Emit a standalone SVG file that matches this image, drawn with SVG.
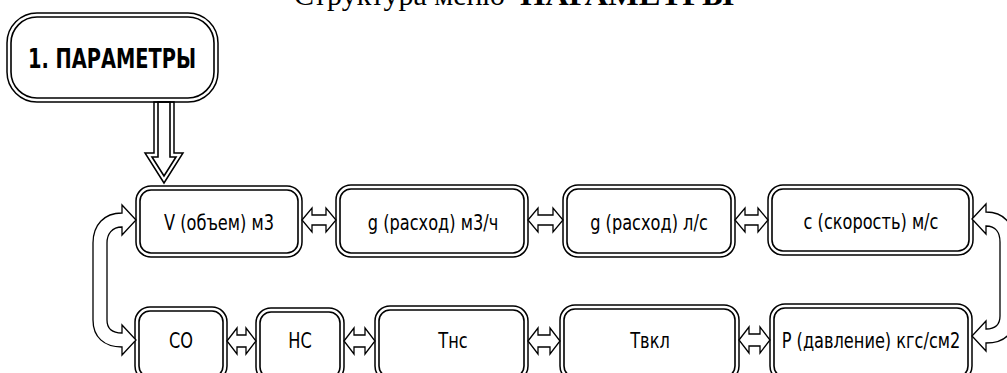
<svg xmlns="http://www.w3.org/2000/svg" width="1007" height="373" viewBox="0 0 1007 373">
<style>
.o{fill:none;stroke:#000;stroke-width:1.5}
.i{fill:none;stroke:#000;stroke-width:1.6}
.lbl{font-family:"DejaVu Sans Condensed","DejaVu Sans",sans-serif;font-stretch:condensed;font-size:18px;fill:#000;text-anchor:middle}
.ttl{font-family:"Liberation Serif","Times New Roman",serif;font-size:30px;fill:#000}
.arr{fill:#fff;stroke:#000;stroke-width:1.3;stroke-linejoin:miter}
</style>
<rect width="1007" height="373" fill="#fff"/>
<text class="ttl" x="294" y="5" textLength="211" lengthAdjust="spacingAndGlyphs">Структура меню</text>
<text class="ttl" x="520" y="5" font-weight="bold" textLength="214" lengthAdjust="spacingAndGlyphs">ПАРАМЕТРЫ</text>

<g id="node-root">
<rect class="o" x="7" y="13" width="211" height="89" rx="30"/>
<rect class="i" x="11" y="17" width="203" height="81" rx="26"/>
<text transform="translate(112,68) scale(1,1.08)" font-family="'DejaVu Sans Condensed','DejaVu Sans',sans-serif" font-stretch="condensed" font-weight="bold" font-size="25" text-anchor="middle" textLength="168" lengthAdjust="spacingAndGlyphs">1. ПАРАМЕТРЫ</text>
</g>

<g id="node-v">
<rect class="o" x="136" y="186" width="166" height="71" rx="15"/>
<rect class="i" x="140" y="190" width="158" height="63" rx="11"/>
<text class="lbl" transform="translate(219,230) scale(1,1.15)">V (объем) м3</text>
</g>
<g id="node-g1">
<rect class="o" x="336" y="185" width="192" height="72" rx="15"/>
<rect class="i" x="340" y="189" width="184" height="64" rx="11"/>
<text class="lbl" transform="translate(433,230) scale(1,1.15)">g (расход) м3/ч</text>
</g>
<g id="node-g2">
<rect class="o" x="563" y="185" width="172" height="72" rx="15"/>
<rect class="i" x="567" y="189" width="164" height="64" rx="11"/>
<text class="lbl" transform="translate(649,230) scale(1,1.15)">g (расход) л/с</text>
</g>
<g id="node-c">
<rect class="o" x="768" y="185" width="205" height="70" rx="15"/>
<rect class="i" x="772" y="189" width="197" height="62" rx="11"/>
<text class="lbl" transform="translate(871,229) scale(1,1.15)">с (скорость) м/с</text>
</g>

<g id="node-co">
<rect class="o" x="135" y="307" width="92" height="74" rx="15"/>
<rect class="i" x="139" y="311" width="84" height="66" rx="11"/>
<text class="lbl" transform="translate(181,348) scale(1,1.15)">СО</text>
</g>
<g id="node-hc">
<rect class="o" x="256" y="308" width="88" height="74" rx="15"/>
<rect class="i" x="260" y="312" width="80" height="66" rx="11"/>
<text class="lbl" transform="translate(300,348) scale(1,1.15)">НС</text>
</g>
<g id="node-tns">
<rect class="o" x="375" y="306" width="153" height="75" rx="15"/>
<rect class="i" x="379" y="310" width="145" height="67" rx="11"/>
<text class="lbl" transform="translate(453,348) scale(1,1.15)">Тнс</text>
</g>
<g id="node-tvkl">
<rect class="o" x="560" y="305" width="179" height="76" rx="15"/>
<rect class="i" x="564" y="309" width="171" height="68" rx="11"/>
<text class="lbl" transform="translate(650,348) scale(1,1.15)">Твкл</text>
</g>
<g id="node-p">
<rect class="o" x="770" y="304" width="202" height="77" rx="15"/>
<rect class="i" x="774" y="308" width="194" height="69" rx="11"/>
<text class="lbl" transform="translate(871,348) scale(1,1.15)">Р (давление) кгс/см2</text>
</g>

<g id="connectors">
<polygon class="o" points="154,102 154,153 145,153 164,183 183,153 174,153 174,102"/>
<polygon class="i" points="158,102 158,157 152,157 164,176 176,157 170,157 170,102"/>

<path class="arr" d="M302,220 L312,208 L312,215 L326,215 L326,208 L336,220 L326,232 L326,225 L312,225 L312,232 Z"/>
<path class="arr" d="M528,220 L538,208 L538,215 L553,215 L553,208 L563,220 L553,232 L553,225 L538,225 L538,232 Z"/>
<path class="arr" d="M735,220 L745,208 L745,215 L758,215 L758,208 L768,220 L758,232 L758,225 L745,225 L745,232 Z"/>

<path class="arr" d="M227,341 L237,328 L237,335 L246,335 L246,328 L256,341 L246,354 L246,347 L237,347 L237,354 Z"/>
<path class="arr" d="M344,341 L354,328 L354,335 L365,335 L365,328 L375,341 L365,354 L365,347 L354,347 L354,354 Z"/>
<path class="arr" d="M528,341 L538,328 L538,335 L550,335 L550,328 L560,341 L550,354 L550,347 L538,347 L538,354 Z"/>
<path class="arr" d="M739,340 L749,327 L749,334 L760,334 L760,327 L770,340 L760,353 L760,346 L749,346 L749,353 Z"/>

<path class="arr" d="M136,220 L122,205 L122,213 C104,213 93,225 93,243 L93,320 C93,337 104,347 122,347 L122,355 L136,340 L122,325 L122,333 C112,333 107,328 107,320 L107,243 C107,234 112,227 122,227 L122,235 Z"/>
<path class="arr" d="M972,219 L986,204 L986,212 C1004,212 1014,224 1014,242 L1014,316 C1014,334 1004,343 986,343 L986,351 L972,336 L986,321 L986,329 C996,329 1000,324 1000,316 L1000,242 C1000,233 996,226 986,226 L986,234 Z"/>
</g>
</svg>
